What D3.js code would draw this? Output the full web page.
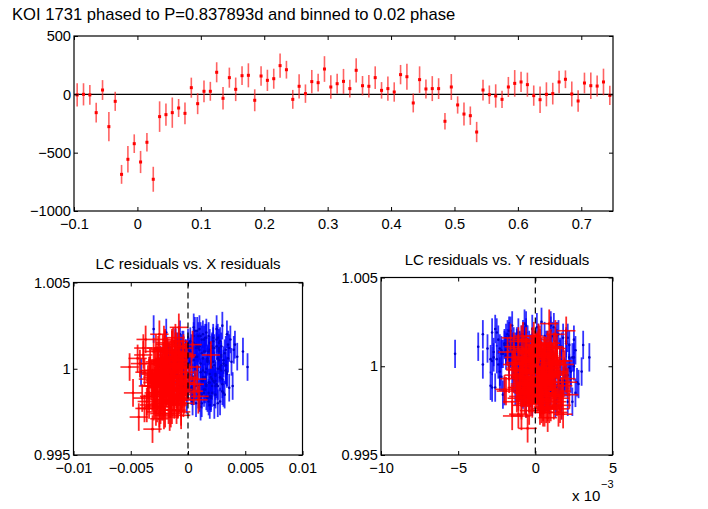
<!DOCTYPE html>
<html>
<head>
<meta charset="utf-8">
<script src="https://cdn.jsdelivr.net/npm/d3@7"></script>
<style>
body { margin: 0; background: #fff; }
text { font-family: "Liberation Sans", Arial, Helvetica, sans-serif; }
</style>
</head>
<body>
<svg width="708" height="509"></svg>
<script>
// ---- top panel: phased light curve (ppm) ----
const phase = [-0.095,-0.085,-0.075,-0.065,-0.055,-0.045,-0.035,-0.025,-0.015,-0.005,
  0.005,0.015,0.025,0.035,0.045,0.055,0.065,0.075,0.085,0.095,
  0.105,0.115,0.125,0.135,0.145,0.155,0.165,0.175,0.185,0.195,
  0.205,0.215,0.225,0.235,0.245,0.255,0.265,0.275,0.285,0.295,
  0.305,0.315,0.325,0.335,0.345,0.355,0.365,0.375,0.385,0.395,
  0.405,0.415,0.425,0.435,0.445,0.455,0.465,0.475,0.485,0.495,
  0.505,0.515,0.525,0.535,0.545,0.555,0.565,0.575,0.585,0.595,
  0.605,0.615,0.625,0.635,0.645,0.655,0.665,0.675,0.685,0.695,
  0.705,0.715,0.725,0.735,0.745];
const fluxPpm = [-5,0,-5,-157,37,-277,-60,-686,-557,-423,
  -580,-411,-728,-191,-174,-157,-117,-163,57,-80,
  26,26,189,-34,143,43,160,163,-51,157,
  120,134,246,211,-43,69,6,109,100,217,
  63,91,111,49,206,74,69,143,34,49,
  20,169,151,-74,126,46,49,49,-231,63,
  -91,-169,-183,-323,37,-3,-14,-43,63,94,
  106,83,-11,-46,0,6,106,129,3,-57,
  97,74,71,106,-9];
const fluxErr = [100,95,85,85,85,125,82,81,114,80,
  95,80,107,131,96,130,77,93,86,90,
  93,81,86,96,86,101,81,103,94,84,
  91,86,104,76,81,104,79,100,76,110,
  101,86,107,76,104,83,97,97,71,103,
  83,83,111,81,114,81,107,89,71,111,
  74,99,79,87,89,79,100,74,86,114,
  87,103,87,114,103,93,97,76,107,93,
  89,114,90,114,83];
const topXTicks = [-0.1,0,0.1,0.2,0.3,0.4,0.5,0.6,0.7];
const topYTicks = [-1000,-500,0,500];

// ---- bottom panels: LC flux vs. centroid residuals (residuals in units of 1e-3) ----
const blueFlux = [1.0001,0.9992,1.0010,1.0004,0.9985,1.0014,0.9998,1.0007,0.9989,1.0019,1.0002,0.9995,
  0.9981,1.0009,1.0016,0.9993,1.0005,0.9987,1.0012,1.0000,0.9996,1.0021,0.9983,1.0008,
  1.0003,0.9990,1.0013,0.9979,1.0006,0.9999,1.0017,0.9988,1.0011,0.9994,1.0024,1.0001,
  0.9986,1.0009,0.9997,1.0015,0.9991,1.0004,0.9982,1.0012,1.0007,0.9995,1.0020,0.9989,
  1.0002,0.9978,1.0010,0.9999,1.0014,0.9992,1.0005,0.9985,1.0018,1.0000,0.9996,1.0008,
  0.9990,1.0013,1.0003,0.9984,1.0022,0.9997,1.0006,0.9993,1.0011,0.9987,1.0016,1.0001,
  0.9980,1.0009,0.9995,1.0004,1.0019,0.9988,1.0012,0.9998,1.0007,0.9991,1.0015,0.9983,
  1.0002,0.9994,1.0010,0.9986,1.0005,1.0023,0.9999,0.9990,1.0013,1.0003,0.9981,1.0008,
  1.0001,1.0010,1.0014,0.9990,1.0012,1.0020,1.0025,1.0023,0.9998,1.0007,1.0011,1.0017,
  1.0007,1.0011,1.0018,1.0001,1.0010,0.9989,1.0019,1.0005,1.0012,0.9997,1.0015,0.9990,
  1.0006,0.9994,1.0012,0.9987,1.0001,1.0016,0.9990,1.0008,0.9997,1.0020,
  0.9984,1.0003,1.0011,0.9993,1.0005,0.9980,1.0014,0.9999,1.0009,0.9988,
  1.0018,0.9995,1.0002,0.9986,1.0013,1.0007,0.9991,1.0022,0.9998,1.0004,
  0.9983,1.0010,0.9996,1.0015,0.9989,1.0006,1.0001,0.9979,1.0012,0.9994,
  1.0008,0.9986,1.0017,1.0003,0.9992,1.0011,0.9981,1.0005,0.9999,1.0021,
  0.9990,1.0013,0.9985,1.0007,1.0000,0.9993,1.0016,0.9988,1.0009,1.0002,
  0.9996,1.0019,0.9982,1.0006,1.0011,0.9991,1.0004,0.9987,1.0014,0.9998,
  1.0008,0.9984,1.0001,1.0017,0.9994,1.0010,0.9989,1.0005,1.0023,0.9997,
  1.0003,0.9986,1.0012,0.9992,1.0007,1.0015,0.9980,1.0000,1.0009,0.9995,
  1.0018,0.9988,1.0004,1.0013,0.9991,1.0006,0.9999,1.0011,0.9985,1.0002];
const blueXres = [0.6,-1.2,1.8,0.2,2.4,-0.5,1.1,2.9,-0.8,0.9,3.3,1.5,
  0.4,-1.8,2.2,1.3,-0.2,3.0,0.7,2.6,-1.4,1.6,1.0,0.1,
  2.0,0.8,-0.9,1.9,3.5,-1.6,1.2,0.3,2.7,2.1,0.5,-0.3,
  1.4,3.2,-2.2,0.0,2.5,1.7,-0.6,2.3,0.6,2.8,1.3,3.6,
  -1.0,1.1,0.2,2.9,-0.4,1.8,3.1,0.9,1.5,-2.0,2.4,0.4,
  2.6,1.0,-1.3,1.6,0.8,3.4,-0.1,2.2,1.9,0.3,2.8,-2.6,
  1.2,-0.7,2.0,3.8,0.5,1.4,2.7,-1.9,0.7,3.0,-1.1,1.7,
  2.3,0.1,1.5,2.1,-2.4,1.0,3.3,0.6,2.5,-0.5,1.8,2.9,
  5.2,4.8,4.1,3.9,3.6,3.4,3.0,-3.0,-4.1,4.3,4.0,3.7,
  0.8,-0.4,1.6,2.1,-1.0,0.3,1.1,2.7,-0.6,1.9,0.5,2.4,
  1.3,-0.4,2.1,0.5,2.8,-1.1,1.6,0.2,2.4,-0.7,
  1.9,3.1,0.0,1.2,-1.5,2.6,0.7,3.3,-0.2,1.5,
  2.2,0.4,-0.9,1.8,2.9,-1.7,1.1,0.6,3.4,-0.3,
  2.0,1.4,-1.2,2.7,0.3,1.7,-0.6,2.3,0.9,3.0,
  -1.4,1.0,2.5,0.1,1.9,-0.8,2.8,0.5,1.3,-1.9,
  2.1,0.8,3.2,-0.5,1.6,2.4,0.2,-1.0,1.2,2.9,
  0.6,1.8,-0.1,2.6,1.0,-1.3,2.2,0.4,3.5,1.5,
  -0.7,2.0,0.9,1.4,-1.6,2.7,0.0,1.7,2.5,-0.4,
  1.1,3.1,0.3,2.3,-1.1,1.9,0.7,2.8,-0.2,1.3,
  2.6,0.5,-0.9,2.1,1.6,-1.8,0.8,3.3,1.2,-0.6];
const blueYres = [-0.3,1.2,-1.5,0.6,-0.9,2.0,0.1,-2.2,1.5,-0.6,0.9,-1.2,
  0.4,-1.9,1.8,-0.1,2.5,-0.8,0.7,-1.4,1.1,-2.6,0.2,1.6,
  -1.1,0.8,-2.0,1.3,-0.4,2.2,-1.7,0.5,-0.2,1.9,-0.7,-2.4,
  1.0,-1.3,0.3,-0.5,2.7,-2.9,1.4,-1.0,0.6,2.1,-1.6,0.0,
  -0.8,1.7,-2.3,0.9,-1.2,0.2,2.4,-0.3,-1.8,1.2,0.5,-2.7,
  1.5,-0.6,0.7,-2.1,0.1,1.9,-1.4,2.3,-0.9,0.4,-1.9,1.1,
  -0.2,2.6,-1.1,0.8,-2.5,1.3,-0.4,0.6,-1.6,2.0,-0.7,1.7,
  0.3,-2.2,1.0,-0.9,2.2,-1.5,0.5,-0.1,1.4,-2.8,0.9,-1.3,
  0.2,-1.0,1.3,-0.5,0.8,-1.7,0.4,1.0,-0.2,1.6,-1.3,0.6,
  -5.2,-3.7,-3.4,-3.4,-3.1,-2.9,-2.8,3.5,3.1,3.0,2.5,2.8,
  -0.5,0.8,-1.6,1.3,-0.2,2.1,-1.1,0.4,-2.3,1.0,
  -0.8,1.7,-1.9,0.2,-0.4,2.4,-1.4,0.9,-0.1,-2.6,
  1.5,-0.7,0.6,-1.3,2.0,-2.1,0.1,1.2,-0.9,-1.7,
  0.7,-0.3,1.9,-2.4,0.3,-1.0,1.4,-0.6,2.2,-1.5,
  0.0,-2.0,1.1,-0.4,1.8,-1.2,0.5,-2.7,0.9,-0.2,
  1.6,-1.8,0.4,-0.8,2.5,-1.4,0.2,1.3,-2.2,-0.5,
  1.0,-1.1,0.6,-1.9,1.7,-0.3,-2.5,0.8,-0.7,2.0,
  -1.6,0.3,-0.1,1.4,-2.3,0.9,-1.0,1.1,-0.6,2.3,
  -1.3,0.5,-2.0,1.6,-0.4,-0.9,2.1,-1.7,0.1,1.2,
  -0.8,-2.8,0.7,-1.2,1.9,-0.5,0.4,-1.5,2.6,0.0];
const blueFluxErr = 0.0008;

const redFlux = [0.9996,1.0004,0.9987,1.0010,0.9992,0.9979,1.0001,0.9998,0.9984,1.0007,
  0.9990,1.0013,0.9995,0.9982,1.0003,0.9976,0.9999,1.0009,0.9988,0.9993,
  1.0005,0.9985,0.9997,1.0016,0.9991,0.9980,1.0002,0.9994,0.9974,1.0008,
  0.9989,0.9999,1.0011,0.9983,0.9996,1.0006,0.9978,0.9992,1.0014,0.9986,
  1.0001,0.9981,0.9995,1.0004,0.9988,0.9973,1.0009,0.9997,0.9985,0.9990,
  1.0012,0.9993,0.9979,1.0003,0.9987,0.9998,1.0007,0.9982,0.9995,0.9976,
  1.0000,0.9989,1.0015,0.9984,0.9994,1.0005,0.9977,0.9991,1.0010,0.9986,
  0.9997,1.0002,0.9980,0.9993,1.0008,0.9985,0.9975,1.0001,0.9990,0.9996,
  1.0001,0.9986,1.0008,0.9984,0.9982,1.0024,0.9965,1.0020,0.9972,1.0018,
  0.9983,1.0006,0.9991,1.0017,0.9974,0.9987,1.0003,0.9979,1.0012,0.9994,
  0.9993,1.0003,0.9985,0.9998,1.0009,0.9978,0.9990,1.0005,0.9982,0.9996,
  1.0012,0.9987,0.9999,0.9975,1.0002,0.9991,1.0007,0.9984,0.9994,1.0014,
  0.9980,0.9997,1.0004,0.9988,0.9971,1.0010,0.9993,0.9983,1.0001,0.9990,
  1.0006,0.9977,0.9995,1.0011,0.9986,0.9999,0.9981,1.0003,0.9992,1.0016,
  0.9976,0.9989,1.0008,0.9995,0.9984,1.0002,0.9973,0.9997,1.0013,0.9987,
  0.9991,1.0005,0.9979,0.9998,1.0010,0.9983,0.9994,1.0001,0.9986,0.9974,
  1.0007,0.9990,0.9996,1.0015,0.9980,0.9992,1.0004,0.9985,0.9999,1.0009,
  0.9977,0.9993,1.0006,0.9988,0.9997,1.0012,0.9982,0.9995,1.0002,0.9978,
  0.9989,1.0008,0.9994,0.9984,1.0014,0.9991,0.9976,1.0003,0.9987,0.9998,
  1.0011,0.9981,0.9996,1.0005,0.9972,0.9990,1.0001,0.9985,0.9993,1.0017];
const redXres = [-1.5,-2.3,-0.9,-1.9,-2.8,-1.2,-0.5,-2.0,-3.1,-1.6,
  -2.4,-1.0,-1.8,-0.3,-2.6,-1.4,-3.3,-0.8,-2.1,-1.7,
  -1.1,-2.9,-2.2,-1.3,-0.6,-2.5,-1.9,-3.5,-1.5,-0.4,
  -2.7,-1.2,-2.0,-0.7,-3.0,-1.6,-2.3,-0.2,-1.4,-2.8,
  -1.8,-3.6,-0.9,-2.4,-1.3,-2.1,-1.0,-2.6,-0.5,-3.2,
  -2.2,-1.5,-2.9,-0.8,-1.9,-3.8,-1.1,-2.5,0.1,-1.7,
  -0.6,-2.0,-1.4,-3.4,-2.3,-1.0,-2.7,-0.1,-1.8,-3.0,
  -2.5,-1.3,-0.4,-2.1,-3.9,-1.6,-2.8,0.3,-2.2,-1.2,
  -5.1,-4.8,2.0,1.0,0.9,-0.8,-3.1,-2.5,-4.3,-1.1,
  -4.0,-4.4,0.6,-3.7,-2.0,0.5,-4.2,-3.4,-3.9,0.8,
  -1.7,-2.6,-1.0,-2.1,-0.5,-3.0,-1.4,-2.4,-0.8,-1.9,
  -2.8,-1.2,-3.4,-0.6,-2.2,-1.6,-0.2,-2.7,-1.3,-2.0,
  -0.9,-3.2,-1.8,-0.4,-2.5,-1.1,-2.9,-1.5,-0.7,-2.3,
  -1.9,-3.6,-1.0,-2.6,-0.3,-1.7,-2.1,-1.2,-3.1,-0.8,
  -2.4,-1.4,-0.1,-2.8,-1.6,-2.0,-0.6,-3.3,-1.1,-2.2,
  -1.5,-2.7,-0.9,-1.8,-3.0,-0.5,-2.3,-1.3,-1.9,-2.5,
  -0.7,-3.5,-1.2,-2.0,-1.6,-0.2,-2.9,-1.0,-2.4,-1.4,
  -3.8,-0.8,-2.1,-1.7,-2.6,-0.4,-1.5,-3.1,-1.1,-2.2,
  -0.6,-1.9,-2.8,-1.3,0.4,-2.4,-1.0,-3.3,-1.8,-0.3,
  -2.0,-1.2,-2.7,-0.9,-1.6,-3.0,-0.5,-2.3,-1.4,-2.1];
const redYres = [0.2,-0.6,0.9,-1.1,0.5,-0.2,1.3,-0.9,0.0,0.7,
  -0.4,1.0,-1.4,0.3,-0.8,1.6,-0.1,0.6,-1.2,0.4,
  1.1,-0.7,0.2,-1.6,0.8,-0.3,1.4,-1.0,0.5,-0.5,
  0.6,-1.3,0.1,1.2,-0.6,0.9,-0.9,0.3,-0.2,1.7,
  -1.5,0.4,1.0,-0.4,0.7,-1.1,0.0,1.5,-0.8,0.2,
  0.8,-1.7,0.3,1.3,-0.5,-0.1,0.6,-1.2,1.1,0.4,
  -0.3,1.8,-0.9,0.1,1.0,-1.4,0.5,-0.6,1.4,-0.2,
  0.9,-1.0,0.3,2.0,-1.8,0.7,-0.4,1.2,-0.7,0.1,
  1.9,-1.9,0.6,2.2,1.6,0.9,-0.5,2.0,-1.5,1.3,
  -1.1,0.4,2.1,-0.8,1.5,-2.0,1.8,-0.6,0.2,1.0,
  0.4,-0.3,0.8,-0.7,0.1,1.2,-1.0,0.6,-0.2,1.5,
  0.0,-0.8,0.9,0.3,-1.3,0.7,-0.4,1.1,0.2,-0.6,
  1.4,-0.1,0.5,-1.1,0.8,0.1,-0.5,1.3,-0.9,0.4,
  -0.2,1.0,0.6,-1.4,0.3,0.9,-0.7,1.6,-0.3,0.2,
  0.7,-1.0,0.0,1.2,-0.4,0.5,1.8,-0.8,0.3,-0.1,
  1.1,-0.6,0.4,-1.2,0.9,0.2,-0.3,1.4,-0.9,0.6,
  0.1,-0.5,1.0,0.3,-1.5,0.7,-0.2,1.3,0.5,-0.7,
  0.8,-0.1,0.4,-1.0,1.1,0.0,-0.4,0.9,-0.8,1.7,
  0.2,-0.6,0.6,1.5,-1.1,0.3,0.9,-0.3,0.1,-1.3,
  1.2,0.5,-0.2,0.8,-0.9,0.4,1.0,-0.5,0.7,-0.1];
const redFluxErr = 0.0008;
const redXresErr = 0.8;
const redYresErr = 0.6;

const leftXTicks = [-0.01,-0.005,0,0.005,0.01];
const rightXTicks = [-10,-5,0,5];
const fluxTicks = [0.995,1,1.005];

const FONT = '"Liberation Sans", Arial, Helvetica, sans-serif';
const svg = d3.select("svg");
svg.append("rect").attr("width", 708).attr("height", 509).attr("fill", "#fff");

function frame(g, x, y, xt, yt, fx, fy) {
  const [x0, x1] = x.range();
  const [y0, y1] = y.range();
  g.append("g").attr("transform", `translate(0,${y0})`)
    .call(d3.axisBottom(x).tickValues(xt).tickFormat(fx).tickSize(-4).tickSizeOuter(0).tickPadding(8));
  g.append("g").attr("transform", `translate(0,${y1})`)
    .call(d3.axisTop(x).tickValues(xt).tickFormat("").tickSize(-4).tickSizeOuter(0));
  g.append("g").attr("transform", `translate(${x0},0)`)
    .call(d3.axisLeft(y).tickValues(yt).tickFormat(fy).tickSize(-4).tickSizeOuter(0).tickPadding(3));
  g.append("g").attr("transform", `translate(${x1},0)`)
    .call(d3.axisRight(y).tickValues(yt).tickFormat("").tickSize(-4).tickSizeOuter(0));
  g.selectAll(".domain").remove();
  g.selectAll(".tick line").attr("stroke", "#000");
  g.selectAll(".tick text").attr("fill", "#000").attr("font-size", 14.6).attr("font-family", FONT);
  g.append("rect")
    .attr("x", x0).attr("y", y1).attr("width", x1 - x0).attr("height", y0 - y1)
    .attr("fill", "none").attr("stroke", "#000").attr("stroke-width", 1.2);
}

// ---- top panel ----
const xTop = d3.scaleLinear().domain([-0.1, 0.75]).range([74, 613]);
const yTop = d3.scaleLinear().domain([-1000, 500]).range([211, 36]);
const topG = svg.append("g");
const pts = phase.map((p, i) => ({ p, f: fluxPpm[i], e: fluxErr[i] }));

topG.append("line")
  .attr("x1", xTop(-0.1)).attr("x2", xTop(0.75))
  .attr("y1", yTop(0)).attr("y2", yTop(0))
  .attr("stroke", "#000").attr("stroke-width", 1.2);

topG.append("g").selectAll("line").data(pts).join("line")
  .attr("x1", d => xTop(d.p)).attr("x2", d => xTop(d.p))
  .attr("y1", d => yTop(d.f - d.e)).attr("y2", d => yTop(d.f + d.e))
  .attr("stroke", "#ff2020").attr("stroke-opacity", 0.7).attr("stroke-width", 1.6);

topG.append("g").selectAll("rect").data(pts).join("rect")
  .attr("x", d => xTop(d.p) - 1.5).attr("y", d => yTop(d.f) - 1.5)
  .attr("width", 3).attr("height", 3).attr("fill", "#ff0000");

frame(topG, xTop, yTop, topXTicks, topYTicks, d3.format("~g"), d3.format("~g"));

svg.append("text").attr("x", 12).attr("y", 20)
  .attr("font-size", 16.6).attr("font-family", FONT)
  .text("KOI 1731 phased to P=0.837893d and binned to 0.02 phase");

// ---- bottom panels ----
const blue = blueFlux.map((f, i) => ({ f, dx: blueXres[i], dy: blueYres[i] }));
const red = redFlux.map((f, i) => ({ f, dx: redXres[i], dy: redYres[i] }));

function scatter(g, x, y, key, toX) {
  const bg = g.append("g");
  bg.selectAll("line").data(blue).join("line")
    .attr("x1", d => x(toX(d[key]))).attr("x2", d => x(toX(d[key])))
    .attr("y1", d => y(d.f - blueFluxErr)).attr("y2", d => y(d.f + blueFluxErr))
    .attr("stroke", "#0000ff").attr("stroke-opacity", 0.8).attr("stroke-width", 1.8);
  bg.selectAll("circle").data(blue).join("circle")
    .attr("cx", d => x(toX(d[key]))).attr("cy", d => y(d.f)).attr("r", 1.3)
    .attr("fill", "#0000cc");

  const rErr = key === "dx" ? redXresErr : redYresErr;
  const rg = g.append("g");
  rg.selectAll("line.v").data(red).join("line").attr("class", "v")
    .attr("x1", d => x(toX(d[key]))).attr("x2", d => x(toX(d[key])))
    .attr("y1", d => y(d.f - redFluxErr)).attr("y2", d => y(d.f + redFluxErr))
    .attr("stroke", "#ff0000").attr("stroke-opacity", 0.85).attr("stroke-width", 1.8);
  rg.selectAll("line.h").data(red).join("line").attr("class", "h")
    .attr("x1", d => x(toX(d[key] - rErr))).attr("x2", d => x(toX(d[key] + rErr)))
    .attr("y1", d => y(d.f)).attr("y2", d => y(d.f))
    .attr("stroke", "#ff0000").attr("stroke-opacity", 0.85).attr("stroke-width", 1.6);
  rg.selectAll("circle").data(red).join("circle")
    .attr("cx", d => x(toX(d[key]))).attr("cy", d => y(d.f)).attr("r", 1.3)
    .attr("fill", "#ff0000");

  const [ya, yb] = y.range();
  g.append("line").attr("x1", x(0)).attr("x2", x(0)).attr("y1", yb).attr("y2", ya)
    .attr("stroke", "#000").attr("stroke-width", 1.2).attr("stroke-dasharray", "6,4");
}

const xL = d3.scaleLinear().domain([-0.01, 0.01]).range([73.5, 302.5]);
const yL = d3.scaleLinear().domain([0.995, 1.005]).range([455, 282.5]);
const leftG = svg.append("g");
scatter(leftG, xL, yL, "dx", v => v * 1e-3);
frame(leftG, xL, yL, leftXTicks, fluxTicks, d3.format("~g"), d3.format("~g"));
leftG.append("text").attr("x", 188).attr("y", 269).attr("text-anchor", "middle")
  .attr("font-size", 15).attr("font-family", FONT).text("LC residuals vs. X residuals");

const xR = d3.scaleLinear().domain([-10, 5]).range([381, 612.5]);
const yR = d3.scaleLinear().domain([0.995, 1.005]).range([455, 277.5]);
const rightG = svg.append("g");
scatter(rightG, xR, yR, "dy", v => v);
frame(rightG, xR, yR, rightXTicks, fluxTicks, d3.format("~g"), d3.format("~g"));
rightG.append("text").attr("x", 497).attr("y", 265).attr("text-anchor", "middle")
  .attr("font-size", 15).attr("font-family", FONT).text("LC residuals vs. Y residuals");
rightG.append("text").attr("x", 572).attr("y", 501)
  .attr("font-size", 15).attr("font-family", FONT).text("x 10");
rightG.append("text").attr("x", 601).attr("y", 488)
  .attr("font-size", 11).attr("font-family", FONT).text("\u22123");
</script>
</body>
</html>
